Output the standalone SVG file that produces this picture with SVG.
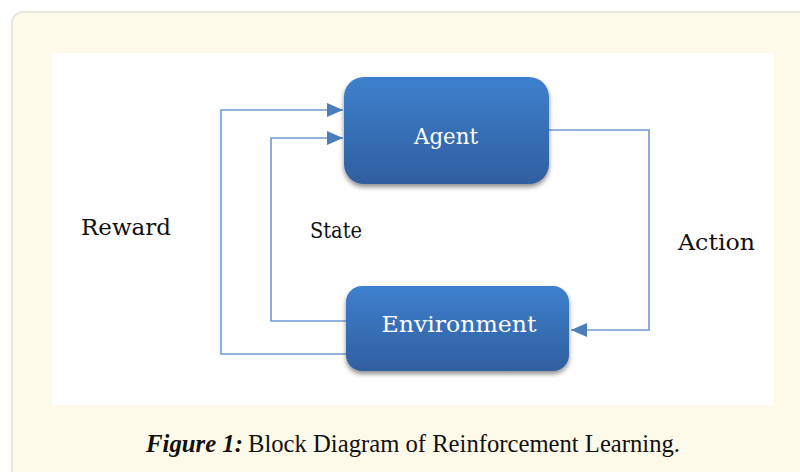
<svg xmlns="http://www.w3.org/2000/svg" width="800" height="472" viewBox="0 0 800 472">
<style>
.lbl{font-family:"DejaVu Serif","Liberation Serif",serif;font-size:23px;fill:#111}
.ntxt{font-family:"DejaVu Serif","Liberation Serif",serif;font-size:23px;fill:#ffffff;text-anchor:middle}
.cap{font-family:"Liberation Serif","DejaVu Serif",serif;font-size:25px;fill:#111}
.conn{fill:none;stroke:#6d9bd3;stroke-width:1.6}
.box{fill:url(#bg);filter:url(#sh)}
</style>
<defs>
<linearGradient id="bg" x1="0" y1="0" x2="0" y2="1">
<stop offset="0" stop-color="#3e80cd"/>
<stop offset="1" stop-color="#2f5f9f"/>
</linearGradient>
<filter id="sh" x="-10%" y="-10%" width="120%" height="130%">
<feGaussianBlur in="SourceAlpha" stdDeviation="2.5"/>
<feOffset dx="0" dy="3" result="b"/>
<feComponentTransfer><feFuncA type="linear" slope="0.45"/></feComponentTransfer>
<feMerge><feMergeNode/><feMergeNode in="SourceGraphic"/></feMerge>
</filter>
<marker id="ah" markerWidth="16" markerHeight="14" refX="16" refY="7" orient="auto" markerUnits="userSpaceOnUse">
<path d="M0,0 L16,7 L0,14 Z" fill="#4a7ebb"/>
</marker>
</defs>
<rect x="12" y="12" width="800" height="480" rx="11" fill="#fefae9" stroke="#e9e6dc" stroke-width="2"/>
<rect x="52" y="53" width="722" height="352" fill="#ffffff"/>
<g id="connectors">
<path class="conn" d="M346,354 L221,354 L221,110 L343,110" marker-end="url(#ah)"/>
<path class="conn" d="M346,321 L271,321 L271,138 L343,138" marker-end="url(#ah)"/>
<path class="conn" d="M549,130 L649,130 L649,330 L571,330" marker-end="url(#ah)"/>
</g>
<g id="agent">
<rect class="box" x="344" y="77" width="205" height="107" rx="20"/>
<text class="ntxt" x="446" y="144" textLength="64" lengthAdjust="spacingAndGlyphs">Agent</text>
</g>
<g id="environment">
<rect class="box" x="346" y="286" width="223" height="85" rx="16"/>
<text class="ntxt" x="459" y="332" textLength="155" lengthAdjust="spacingAndGlyphs">Environment</text>
</g>
<g id="labels">
<text class="lbl" x="81" y="235" textLength="90" lengthAdjust="spacingAndGlyphs">Reward</text>
<text class="lbl" x="310" y="238" textLength="52" lengthAdjust="spacingAndGlyphs">State</text>
<text class="lbl" x="678" y="250" textLength="77" lengthAdjust="spacingAndGlyphs">Action</text>
</g>
<text class="cap" x="146" y="452"><tspan font-weight="bold" font-style="italic" textLength="97" lengthAdjust="spacingAndGlyphs">Figure 1:</tspan><tspan x="248" textLength="432" lengthAdjust="spacingAndGlyphs">Block Diagram of Reinforcement Learning.</tspan></text>
</svg>
